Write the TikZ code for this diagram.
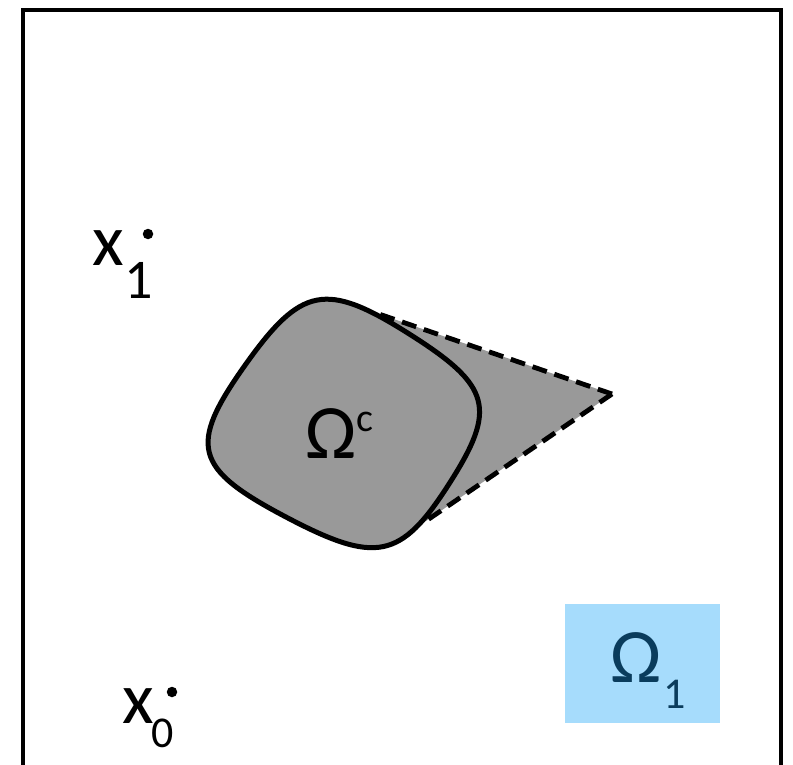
\documentclass[tikz,border=0pt]{standalone}
\usepackage{fontspec}
\setmainfont{Carlito}
\usetikzlibrary{calc}
\begin{document}
\begin{tikzpicture}[x=1pt,y=-1pt,
  lbl/.style={inner sep=0pt,anchor=base west},
  ptdot/.style={circle,fill=black,inner sep=0pt,minimum size=10.5pt},
  shapeline/.style={line width=5pt,line join=round},
  conedash/.style={line width=4.8pt,dash pattern=on 15pt off 8pt}]
\definecolor{obst}{RGB}{153,153,153}
\definecolor{boxblue}{RGB}{166,220,252}
\definecolor{navy}{RGB}{10,60,92}
\useasboundingbox (0,0) rectangle (793,765);
\fill[white] (0,0) rectangle (793,765);
% frame (open at the bottom)
\draw[line width=3.2pt] (23,766) -- (23,10) -- (781,10) -- (781,766);
% Omega_1 box
\node[fill=boxblue,minimum width=155pt,minimum height=119pt,inner sep=0pt,anchor=north west] (box) at (565,604) {};
\node[lbl,text=navy] (om1) at (610,682) {\fontsize{77}{80}\selectfont Ω};
\node[lbl,text=navy] (om1s) at (663,708) {\fontsize{44}{48}\selectfont 1};
% obstacle corners and side midpoints
\coordinate (CT) at (311,272);
\coordinate (CR) at (506,395);
\coordinate (CB) at (392,573);
\coordinate (CL) at (178,460);
\coordinate (M1) at ($(CT)!0.5!(CR)$);
\coordinate (M2) at ($(CR)!0.5!(CB)$);
\coordinate (M3) at ($(CB)!0.5!(CL)$);
\coordinate (M4) at ($(CL)!0.5!(CT)$);
% cone
\coordinate (tip) at (612,394);
\coordinate (tu) at (376,313);
\coordinate (tl) at (423,523);
\fill[obst] (tu) -- (tip) -- (tl) -- cycle;
\draw[conedash] (tip) -- (tu);
\draw[conedash] (tip) -- (tl);
% obstacle
\filldraw[shapeline,fill=obst] (M4)
  .. controls ($(M4)!0.85!(CT)$) and ($(M1)!0.85!(CT)$) .. (M1)
  .. controls ($(M1)!0.85!(CR)$) and ($(M2)!0.85!(CR)$) .. (M2)
  .. controls ($(M2)!0.85!(CB)$) and ($(M3)!0.85!(CB)$) .. (M3)
  .. controls ($(M3)!0.85!(CL)$) and ($(M4)!0.85!(CL)$) .. (M4) -- cycle;
\node[lbl] (omc) at (305,458) {\fontsize{77}{80}\selectfont Ω};
\node[lbl] (omcs) at (356,431) {\fontsize{40}{44}\selectfont c};
% points
\node[lbl] (x1) at (92,265) {\fontsize{73}{76}\selectfont x};
\node[lbl] (x1s) at (124,298) {\fontsize{56}{60}\selectfont 1};
\node[ptdot] (p1) at (148,234) {};
\node[lbl] (x0) at (122,723) {\fontsize{73}{76}\selectfont x};
\node[lbl] (x0s) at (151,747) {\fontsize{44}{48}\selectfont 0};
\node[ptdot] (p0) at (172,692) {};
\end{tikzpicture}
\end{document}
